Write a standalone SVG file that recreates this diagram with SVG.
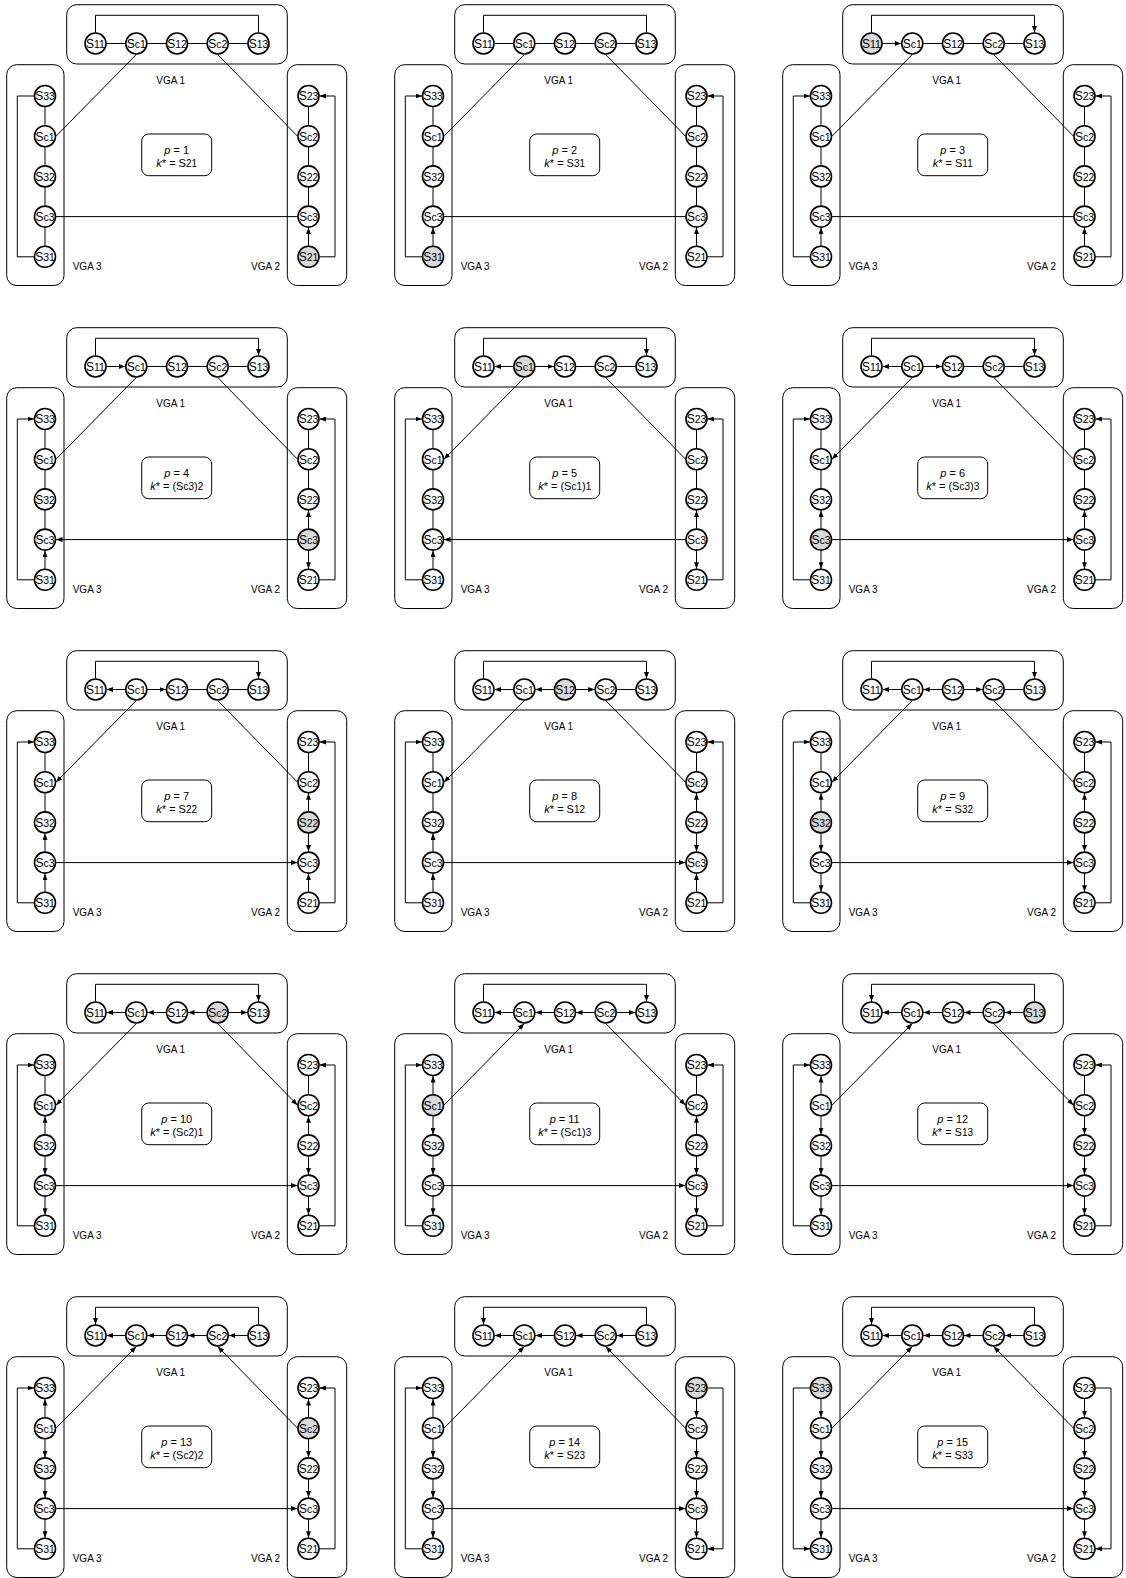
<svg xmlns="http://www.w3.org/2000/svg" width="1126" height="1578" viewBox="0 0 1126 1578">
<defs>
<marker id="arr" viewBox="0 0 6.5 5" refX="6.5" refY="2.5" markerWidth="6.5" markerHeight="5" markerUnits="userSpaceOnUse" orient="auto"><path d="M0,0L6.5,2.5L0,5z" fill="#000"/></marker>
</defs>
<style>
text{font-family:"Liberation Sans",Arial,sans-serif;fill:#000}
.n circle{fill:#fff;stroke:#000;stroke-width:1.6}
.n.h circle{fill:#d9d9d9}
.n text{font-size:12px;text-anchor:middle}
.n .t{font-size:10.5px}
.c rect,rect.c{fill:#fff;stroke:#000;stroke-width:1}
.e path{fill:none;stroke:#000;stroke-width:1}
.e path.a{marker-end:url(#arr)}
.l{font-size:10px}
.m{font-size:11px;text-anchor:middle}
.m .t{font-size:10px}
.i{font-style:italic}
</style>
<rect width="1126" height="1578" fill="#fff"/>

<!-- Panel 1 -->
<g id="panel1" transform="translate(0,0)">
<g class="c"><rect x="66.7" y="4.7" width="220.6" height="59.3" rx="10"/><rect x="6.7" y="64.7" width="57.3" height="220.8" rx="10"/><rect x="287.3" y="64.7" width="59.4" height="220.8" rx="10"/></g>
<text class="l" x="170.7" y="83.5" text-anchor="middle">VGA 1</text><text class="l" x="72.7" y="270">VGA 3</text><text class="l" x="280" y="270" text-anchor="end">VGA 2</text>
<g id="p1-edges" class="e">
<path d="M106.5,43.5H125.3"/><path d="M147.3,43.5H166"/><path d="M188,43.5H206.7"/><path d="M228.7,43.5H247.5"/><path d="M95.5,32.5V15.3H258.5V32.5"/>
<path d="M45,107V125.2"/><path d="M45,147.2V165.4"/><path d="M45,187.4V205.6"/><path d="M45,227.6V245.8"/><path d="M34,256.8H17.3V96H34"/>
<path d="M308.5,107V125.2"/><path d="M308.5,147.2V165.4"/><path d="M308.5,187.4V205.6"/><path class="a" d="M308.5,245.8V227.6"/><path class="a" d="M319.5,256.8H335V96H319.5"/>
<path d="M136.3,54.5L56,136.2"/><path d="M217.7,54.5L297.5,136.2"/><path d="M56,216.6H297.5"/>
</g>
<g id="p1-v1-S11" class="n"><circle cx="95.5" cy="43.5" r="10.5"/><text x="95.5" y="47.8">S<tspan class="t">11</tspan></text></g>
<g id="p1-v1-Sc1" class="n"><circle cx="136.3" cy="43.5" r="10.5"/><text x="136.3" y="47.8">S<tspan class="t">c1</tspan></text></g>
<g id="p1-v1-S12" class="n"><circle cx="177" cy="43.5" r="10.5"/><text x="177" y="47.8">S<tspan class="t">12</tspan></text></g>
<g id="p1-v1-Sc2" class="n"><circle cx="217.7" cy="43.5" r="10.5"/><text x="217.7" y="47.8">S<tspan class="t">c2</tspan></text></g>
<g id="p1-v1-S13" class="n"><circle cx="258.5" cy="43.5" r="10.5"/><text x="258.5" y="47.8">S<tspan class="t">13</tspan></text></g>
<g id="p1-v3-S33" class="n"><circle cx="45" cy="96" r="10.5"/><text x="45" y="100.3">S<tspan class="t">33</tspan></text></g>
<g id="p1-v3-Sc1" class="n"><circle cx="45" cy="136.2" r="10.5"/><text x="45" y="140.5">S<tspan class="t">c1</tspan></text></g>
<g id="p1-v3-S32" class="n"><circle cx="45" cy="176.4" r="10.5"/><text x="45" y="180.7">S<tspan class="t">32</tspan></text></g>
<g id="p1-v3-Sc3" class="n"><circle cx="45" cy="216.6" r="10.5"/><text x="45" y="220.9">S<tspan class="t">c3</tspan></text></g>
<g id="p1-v3-S31" class="n"><circle cx="45" cy="256.8" r="10.5"/><text x="45" y="261.1">S<tspan class="t">31</tspan></text></g>
<g id="p1-v2-S23" class="n"><circle cx="308.5" cy="96" r="10.5"/><text x="308.5" y="100.3">S<tspan class="t">23</tspan></text></g>
<g id="p1-v2-Sc2" class="n"><circle cx="308.5" cy="136.2" r="10.5"/><text x="308.5" y="140.5">S<tspan class="t">c2</tspan></text></g>
<g id="p1-v2-S22" class="n"><circle cx="308.5" cy="176.4" r="10.5"/><text x="308.5" y="180.7">S<tspan class="t">22</tspan></text></g>
<g id="p1-v2-Sc3" class="n"><circle cx="308.5" cy="216.6" r="10.5"/><text x="308.5" y="220.9">S<tspan class="t">c3</tspan></text></g>
<g id="p1-v2-S21" class="n h"><circle cx="308.5" cy="256.8" r="10.5"/><text x="308.5" y="261.1">S<tspan class="t">21</tspan></text></g>
<g id="p1-info"><rect class="c" x="141.7" y="134" width="70" height="41.7" rx="7"/><text class="m" x="176.7" y="153.5"><tspan class="i">p</tspan> = 1</text><text class="m" x="176.7" y="167"><tspan class="i">k</tspan>* = S<tspan class="t">21</tspan></text></g>
</g>

<!-- Panel 2 -->
<g id="panel2" transform="translate(388,0)">
<g class="c"><rect x="66.7" y="4.7" width="220.6" height="59.3" rx="10"/><rect x="6.7" y="64.7" width="57.3" height="220.8" rx="10"/><rect x="287.3" y="64.7" width="59.4" height="220.8" rx="10"/></g>
<text class="l" x="170.7" y="83.5" text-anchor="middle">VGA 1</text><text class="l" x="72.7" y="270">VGA 3</text><text class="l" x="280" y="270" text-anchor="end">VGA 2</text>
<g id="p2-edges" class="e">
<path d="M106.5,43.5H125.3"/><path d="M147.3,43.5H166"/><path d="M188,43.5H206.7"/><path d="M228.7,43.5H247.5"/><path d="M95.5,32.5V15.3H258.5V32.5"/>
<path d="M45,107V125.2"/><path d="M45,147.2V165.4"/><path d="M45,187.4V205.6"/><path class="a" d="M45,245.8V227.6"/><path class="a" d="M34,256.8H17.3V96H34"/>
<path d="M308.5,107V125.2"/><path d="M308.5,147.2V165.4"/><path d="M308.5,187.4V205.6"/><path class="a" d="M308.5,245.8V227.6"/><path class="a" d="M319.5,256.8H335V96H319.5"/>
<path d="M136.3,54.5L56,136.2"/><path d="M217.7,54.5L297.5,136.2"/><path d="M56,216.6H297.5"/>
</g>
<g id="p2-v1-S11" class="n"><circle cx="95.5" cy="43.5" r="10.5"/><text x="95.5" y="47.8">S<tspan class="t">11</tspan></text></g>
<g id="p2-v1-Sc1" class="n"><circle cx="136.3" cy="43.5" r="10.5"/><text x="136.3" y="47.8">S<tspan class="t">c1</tspan></text></g>
<g id="p2-v1-S12" class="n"><circle cx="177" cy="43.5" r="10.5"/><text x="177" y="47.8">S<tspan class="t">12</tspan></text></g>
<g id="p2-v1-Sc2" class="n"><circle cx="217.7" cy="43.5" r="10.5"/><text x="217.7" y="47.8">S<tspan class="t">c2</tspan></text></g>
<g id="p2-v1-S13" class="n"><circle cx="258.5" cy="43.5" r="10.5"/><text x="258.5" y="47.8">S<tspan class="t">13</tspan></text></g>
<g id="p2-v3-S33" class="n"><circle cx="45" cy="96" r="10.5"/><text x="45" y="100.3">S<tspan class="t">33</tspan></text></g>
<g id="p2-v3-Sc1" class="n"><circle cx="45" cy="136.2" r="10.5"/><text x="45" y="140.5">S<tspan class="t">c1</tspan></text></g>
<g id="p2-v3-S32" class="n"><circle cx="45" cy="176.4" r="10.5"/><text x="45" y="180.7">S<tspan class="t">32</tspan></text></g>
<g id="p2-v3-Sc3" class="n"><circle cx="45" cy="216.6" r="10.5"/><text x="45" y="220.9">S<tspan class="t">c3</tspan></text></g>
<g id="p2-v3-S31" class="n h"><circle cx="45" cy="256.8" r="10.5"/><text x="45" y="261.1">S<tspan class="t">31</tspan></text></g>
<g id="p2-v2-S23" class="n"><circle cx="308.5" cy="96" r="10.5"/><text x="308.5" y="100.3">S<tspan class="t">23</tspan></text></g>
<g id="p2-v2-Sc2" class="n"><circle cx="308.5" cy="136.2" r="10.5"/><text x="308.5" y="140.5">S<tspan class="t">c2</tspan></text></g>
<g id="p2-v2-S22" class="n"><circle cx="308.5" cy="176.4" r="10.5"/><text x="308.5" y="180.7">S<tspan class="t">22</tspan></text></g>
<g id="p2-v2-Sc3" class="n"><circle cx="308.5" cy="216.6" r="10.5"/><text x="308.5" y="220.9">S<tspan class="t">c3</tspan></text></g>
<g id="p2-v2-S21" class="n"><circle cx="308.5" cy="256.8" r="10.5"/><text x="308.5" y="261.1">S<tspan class="t">21</tspan></text></g>
<g id="p2-info"><rect class="c" x="141.7" y="134" width="70" height="41.7" rx="7"/><text class="m" x="176.7" y="153.5"><tspan class="i">p</tspan> = 2</text><text class="m" x="176.7" y="167"><tspan class="i">k</tspan>* = S<tspan class="t">31</tspan></text></g>
</g>

<!-- Panel 3 -->
<g id="panel3" transform="translate(776,0)">
<g class="c"><rect x="66.7" y="4.7" width="220.6" height="59.3" rx="10"/><rect x="6.7" y="64.7" width="57.3" height="220.8" rx="10"/><rect x="287.3" y="64.7" width="59.4" height="220.8" rx="10"/></g>
<text class="l" x="170.7" y="83.5" text-anchor="middle">VGA 1</text><text class="l" x="72.7" y="270">VGA 3</text><text class="l" x="280" y="270" text-anchor="end">VGA 2</text>
<g id="p3-edges" class="e">
<path class="a" d="M106.5,43.5H125.3"/><path d="M147.3,43.5H166"/><path d="M188,43.5H206.7"/><path d="M228.7,43.5H247.5"/><path class="a" d="M95.5,32.5V15.3H258.5V32.5"/>
<path d="M45,107V125.2"/><path d="M45,147.2V165.4"/><path d="M45,187.4V205.6"/><path class="a" d="M45,245.8V227.6"/><path class="a" d="M34,256.8H17.3V96H34"/>
<path d="M308.5,107V125.2"/><path d="M308.5,147.2V165.4"/><path d="M308.5,187.4V205.6"/><path class="a" d="M308.5,245.8V227.6"/><path class="a" d="M319.5,256.8H335V96H319.5"/>
<path d="M136.3,54.5L56,136.2"/><path d="M217.7,54.5L297.5,136.2"/><path d="M56,216.6H297.5"/>
</g>
<g id="p3-v1-S11" class="n h"><circle cx="95.5" cy="43.5" r="10.5"/><text x="95.5" y="47.8">S<tspan class="t">11</tspan></text></g>
<g id="p3-v1-Sc1" class="n"><circle cx="136.3" cy="43.5" r="10.5"/><text x="136.3" y="47.8">S<tspan class="t">c1</tspan></text></g>
<g id="p3-v1-S12" class="n"><circle cx="177" cy="43.5" r="10.5"/><text x="177" y="47.8">S<tspan class="t">12</tspan></text></g>
<g id="p3-v1-Sc2" class="n"><circle cx="217.7" cy="43.5" r="10.5"/><text x="217.7" y="47.8">S<tspan class="t">c2</tspan></text></g>
<g id="p3-v1-S13" class="n"><circle cx="258.5" cy="43.5" r="10.5"/><text x="258.5" y="47.8">S<tspan class="t">13</tspan></text></g>
<g id="p3-v3-S33" class="n"><circle cx="45" cy="96" r="10.5"/><text x="45" y="100.3">S<tspan class="t">33</tspan></text></g>
<g id="p3-v3-Sc1" class="n"><circle cx="45" cy="136.2" r="10.5"/><text x="45" y="140.5">S<tspan class="t">c1</tspan></text></g>
<g id="p3-v3-S32" class="n"><circle cx="45" cy="176.4" r="10.5"/><text x="45" y="180.7">S<tspan class="t">32</tspan></text></g>
<g id="p3-v3-Sc3" class="n"><circle cx="45" cy="216.6" r="10.5"/><text x="45" y="220.9">S<tspan class="t">c3</tspan></text></g>
<g id="p3-v3-S31" class="n"><circle cx="45" cy="256.8" r="10.5"/><text x="45" y="261.1">S<tspan class="t">31</tspan></text></g>
<g id="p3-v2-S23" class="n"><circle cx="308.5" cy="96" r="10.5"/><text x="308.5" y="100.3">S<tspan class="t">23</tspan></text></g>
<g id="p3-v2-Sc2" class="n"><circle cx="308.5" cy="136.2" r="10.5"/><text x="308.5" y="140.5">S<tspan class="t">c2</tspan></text></g>
<g id="p3-v2-S22" class="n"><circle cx="308.5" cy="176.4" r="10.5"/><text x="308.5" y="180.7">S<tspan class="t">22</tspan></text></g>
<g id="p3-v2-Sc3" class="n"><circle cx="308.5" cy="216.6" r="10.5"/><text x="308.5" y="220.9">S<tspan class="t">c3</tspan></text></g>
<g id="p3-v2-S21" class="n"><circle cx="308.5" cy="256.8" r="10.5"/><text x="308.5" y="261.1">S<tspan class="t">21</tspan></text></g>
<g id="p3-info"><rect class="c" x="141.7" y="134" width="70" height="41.7" rx="7"/><text class="m" x="176.7" y="153.5"><tspan class="i">p</tspan> = 3</text><text class="m" x="176.7" y="167"><tspan class="i">k</tspan>* = S<tspan class="t">11</tspan></text></g>
</g>

<!-- Panel 4 -->
<g id="panel4" transform="translate(0,323)">
<g class="c"><rect x="66.7" y="4.7" width="220.6" height="59.3" rx="10"/><rect x="6.7" y="64.7" width="57.3" height="220.8" rx="10"/><rect x="287.3" y="64.7" width="59.4" height="220.8" rx="10"/></g>
<text class="l" x="170.7" y="83.5" text-anchor="middle">VGA 1</text><text class="l" x="72.7" y="270">VGA 3</text><text class="l" x="280" y="270" text-anchor="end">VGA 2</text>
<g id="p4-edges" class="e">
<path class="a" d="M106.5,43.5H125.3"/><path d="M147.3,43.5H166"/><path d="M188,43.5H206.7"/><path d="M228.7,43.5H247.5"/><path class="a" d="M95.5,32.5V15.3H258.5V32.5"/>
<path d="M45,107V125.2"/><path d="M45,147.2V165.4"/><path d="M45,187.4V205.6"/><path class="a" d="M45,245.8V227.6"/><path class="a" d="M34,256.8H17.3V96H34"/>
<path d="M308.5,107V125.2"/><path d="M308.5,147.2V165.4"/><path class="a" d="M308.5,205.6V187.4"/><path class="a" d="M308.5,227.6V245.8"/><path class="a" d="M319.5,256.8H335V96H319.5"/>
<path d="M136.3,54.5L56,136.2"/><path d="M217.7,54.5L297.5,136.2"/><path class="a" d="M297.5,216.6H56"/>
</g>
<g id="p4-v1-S11" class="n"><circle cx="95.5" cy="43.5" r="10.5"/><text x="95.5" y="47.8">S<tspan class="t">11</tspan></text></g>
<g id="p4-v1-Sc1" class="n"><circle cx="136.3" cy="43.5" r="10.5"/><text x="136.3" y="47.8">S<tspan class="t">c1</tspan></text></g>
<g id="p4-v1-S12" class="n"><circle cx="177" cy="43.5" r="10.5"/><text x="177" y="47.8">S<tspan class="t">12</tspan></text></g>
<g id="p4-v1-Sc2" class="n"><circle cx="217.7" cy="43.5" r="10.5"/><text x="217.7" y="47.8">S<tspan class="t">c2</tspan></text></g>
<g id="p4-v1-S13" class="n"><circle cx="258.5" cy="43.5" r="10.5"/><text x="258.5" y="47.8">S<tspan class="t">13</tspan></text></g>
<g id="p4-v3-S33" class="n"><circle cx="45" cy="96" r="10.5"/><text x="45" y="100.3">S<tspan class="t">33</tspan></text></g>
<g id="p4-v3-Sc1" class="n"><circle cx="45" cy="136.2" r="10.5"/><text x="45" y="140.5">S<tspan class="t">c1</tspan></text></g>
<g id="p4-v3-S32" class="n"><circle cx="45" cy="176.4" r="10.5"/><text x="45" y="180.7">S<tspan class="t">32</tspan></text></g>
<g id="p4-v3-Sc3" class="n"><circle cx="45" cy="216.6" r="10.5"/><text x="45" y="220.9">S<tspan class="t">c3</tspan></text></g>
<g id="p4-v3-S31" class="n"><circle cx="45" cy="256.8" r="10.5"/><text x="45" y="261.1">S<tspan class="t">31</tspan></text></g>
<g id="p4-v2-S23" class="n"><circle cx="308.5" cy="96" r="10.5"/><text x="308.5" y="100.3">S<tspan class="t">23</tspan></text></g>
<g id="p4-v2-Sc2" class="n"><circle cx="308.5" cy="136.2" r="10.5"/><text x="308.5" y="140.5">S<tspan class="t">c2</tspan></text></g>
<g id="p4-v2-S22" class="n"><circle cx="308.5" cy="176.4" r="10.5"/><text x="308.5" y="180.7">S<tspan class="t">22</tspan></text></g>
<g id="p4-v2-Sc3" class="n h"><circle cx="308.5" cy="216.6" r="10.5"/><text x="308.5" y="220.9">S<tspan class="t">c3</tspan></text></g>
<g id="p4-v2-S21" class="n"><circle cx="308.5" cy="256.8" r="10.5"/><text x="308.5" y="261.1">S<tspan class="t">21</tspan></text></g>
<g id="p4-info"><rect class="c" x="141.7" y="134" width="70" height="41.7" rx="7"/><text class="m" x="176.7" y="153.5"><tspan class="i">p</tspan> = 4</text><text class="m" x="176.7" y="167"><tspan class="i">k</tspan>* = (S<tspan class="t">c3</tspan>)<tspan class="t">2</tspan></text></g>
</g>

<!-- Panel 5 -->
<g id="panel5" transform="translate(388,323)">
<g class="c"><rect x="66.7" y="4.7" width="220.6" height="59.3" rx="10"/><rect x="6.7" y="64.7" width="57.3" height="220.8" rx="10"/><rect x="287.3" y="64.7" width="59.4" height="220.8" rx="10"/></g>
<text class="l" x="170.7" y="83.5" text-anchor="middle">VGA 1</text><text class="l" x="72.7" y="270">VGA 3</text><text class="l" x="280" y="270" text-anchor="end">VGA 2</text>
<g id="p5-edges" class="e">
<path class="a" d="M125.3,43.5H106.5"/><path class="a" d="M147.3,43.5H166"/><path d="M188,43.5H206.7"/><path d="M228.7,43.5H247.5"/><path class="a" d="M95.5,32.5V15.3H258.5V32.5"/>
<path d="M45,107V125.2"/><path d="M45,147.2V165.4"/><path d="M45,187.4V205.6"/><path class="a" d="M45,245.8V227.6"/><path class="a" d="M34,256.8H17.3V96H34"/>
<path d="M308.5,107V125.2"/><path d="M308.5,147.2V165.4"/><path class="a" d="M308.5,205.6V187.4"/><path class="a" d="M308.5,227.6V245.8"/><path class="a" d="M319.5,256.8H335V96H319.5"/>
<path class="a" d="M136.3,54.5L56,136.2"/><path d="M217.7,54.5L297.5,136.2"/><path class="a" d="M297.5,216.6H56"/>
</g>
<g id="p5-v1-S11" class="n"><circle cx="95.5" cy="43.5" r="10.5"/><text x="95.5" y="47.8">S<tspan class="t">11</tspan></text></g>
<g id="p5-v1-Sc1" class="n h"><circle cx="136.3" cy="43.5" r="10.5"/><text x="136.3" y="47.8">S<tspan class="t">c1</tspan></text></g>
<g id="p5-v1-S12" class="n"><circle cx="177" cy="43.5" r="10.5"/><text x="177" y="47.8">S<tspan class="t">12</tspan></text></g>
<g id="p5-v1-Sc2" class="n"><circle cx="217.7" cy="43.5" r="10.5"/><text x="217.7" y="47.8">S<tspan class="t">c2</tspan></text></g>
<g id="p5-v1-S13" class="n"><circle cx="258.5" cy="43.5" r="10.5"/><text x="258.5" y="47.8">S<tspan class="t">13</tspan></text></g>
<g id="p5-v3-S33" class="n"><circle cx="45" cy="96" r="10.5"/><text x="45" y="100.3">S<tspan class="t">33</tspan></text></g>
<g id="p5-v3-Sc1" class="n"><circle cx="45" cy="136.2" r="10.5"/><text x="45" y="140.5">S<tspan class="t">c1</tspan></text></g>
<g id="p5-v3-S32" class="n"><circle cx="45" cy="176.4" r="10.5"/><text x="45" y="180.7">S<tspan class="t">32</tspan></text></g>
<g id="p5-v3-Sc3" class="n"><circle cx="45" cy="216.6" r="10.5"/><text x="45" y="220.9">S<tspan class="t">c3</tspan></text></g>
<g id="p5-v3-S31" class="n"><circle cx="45" cy="256.8" r="10.5"/><text x="45" y="261.1">S<tspan class="t">31</tspan></text></g>
<g id="p5-v2-S23" class="n"><circle cx="308.5" cy="96" r="10.5"/><text x="308.5" y="100.3">S<tspan class="t">23</tspan></text></g>
<g id="p5-v2-Sc2" class="n"><circle cx="308.5" cy="136.2" r="10.5"/><text x="308.5" y="140.5">S<tspan class="t">c2</tspan></text></g>
<g id="p5-v2-S22" class="n"><circle cx="308.5" cy="176.4" r="10.5"/><text x="308.5" y="180.7">S<tspan class="t">22</tspan></text></g>
<g id="p5-v2-Sc3" class="n"><circle cx="308.5" cy="216.6" r="10.5"/><text x="308.5" y="220.9">S<tspan class="t">c3</tspan></text></g>
<g id="p5-v2-S21" class="n"><circle cx="308.5" cy="256.8" r="10.5"/><text x="308.5" y="261.1">S<tspan class="t">21</tspan></text></g>
<g id="p5-info"><rect class="c" x="141.7" y="134" width="70" height="41.7" rx="7"/><text class="m" x="176.7" y="153.5"><tspan class="i">p</tspan> = 5</text><text class="m" x="176.7" y="167"><tspan class="i">k</tspan>* = (S<tspan class="t">c1</tspan>)<tspan class="t">1</tspan></text></g>
</g>

<!-- Panel 6 -->
<g id="panel6" transform="translate(776,323)">
<g class="c"><rect x="66.7" y="4.7" width="220.6" height="59.3" rx="10"/><rect x="6.7" y="64.7" width="57.3" height="220.8" rx="10"/><rect x="287.3" y="64.7" width="59.4" height="220.8" rx="10"/></g>
<text class="l" x="170.7" y="83.5" text-anchor="middle">VGA 1</text><text class="l" x="72.7" y="270">VGA 3</text><text class="l" x="280" y="270" text-anchor="end">VGA 2</text>
<g id="p6-edges" class="e">
<path class="a" d="M125.3,43.5H106.5"/><path class="a" d="M147.3,43.5H166"/><path d="M188,43.5H206.7"/><path d="M228.7,43.5H247.5"/><path class="a" d="M95.5,32.5V15.3H258.5V32.5"/>
<path d="M45,107V125.2"/><path d="M45,147.2V165.4"/><path class="a" d="M45,205.6V187.4"/><path class="a" d="M45,227.6V245.8"/><path class="a" d="M34,256.8H17.3V96H34"/>
<path d="M308.5,107V125.2"/><path d="M308.5,147.2V165.4"/><path class="a" d="M308.5,205.6V187.4"/><path class="a" d="M308.5,227.6V245.8"/><path class="a" d="M319.5,256.8H335V96H319.5"/>
<path class="a" d="M136.3,54.5L56,136.2"/><path d="M217.7,54.5L297.5,136.2"/><path class="a" d="M56,216.6H297.5"/>
</g>
<g id="p6-v1-S11" class="n"><circle cx="95.5" cy="43.5" r="10.5"/><text x="95.5" y="47.8">S<tspan class="t">11</tspan></text></g>
<g id="p6-v1-Sc1" class="n"><circle cx="136.3" cy="43.5" r="10.5"/><text x="136.3" y="47.8">S<tspan class="t">c1</tspan></text></g>
<g id="p6-v1-S12" class="n"><circle cx="177" cy="43.5" r="10.5"/><text x="177" y="47.8">S<tspan class="t">12</tspan></text></g>
<g id="p6-v1-Sc2" class="n"><circle cx="217.7" cy="43.5" r="10.5"/><text x="217.7" y="47.8">S<tspan class="t">c2</tspan></text></g>
<g id="p6-v1-S13" class="n"><circle cx="258.5" cy="43.5" r="10.5"/><text x="258.5" y="47.8">S<tspan class="t">13</tspan></text></g>
<g id="p6-v3-S33" class="n"><circle cx="45" cy="96" r="10.5"/><text x="45" y="100.3">S<tspan class="t">33</tspan></text></g>
<g id="p6-v3-Sc1" class="n"><circle cx="45" cy="136.2" r="10.5"/><text x="45" y="140.5">S<tspan class="t">c1</tspan></text></g>
<g id="p6-v3-S32" class="n"><circle cx="45" cy="176.4" r="10.5"/><text x="45" y="180.7">S<tspan class="t">32</tspan></text></g>
<g id="p6-v3-Sc3" class="n h"><circle cx="45" cy="216.6" r="10.5"/><text x="45" y="220.9">S<tspan class="t">c3</tspan></text></g>
<g id="p6-v3-S31" class="n"><circle cx="45" cy="256.8" r="10.5"/><text x="45" y="261.1">S<tspan class="t">31</tspan></text></g>
<g id="p6-v2-S23" class="n"><circle cx="308.5" cy="96" r="10.5"/><text x="308.5" y="100.3">S<tspan class="t">23</tspan></text></g>
<g id="p6-v2-Sc2" class="n"><circle cx="308.5" cy="136.2" r="10.5"/><text x="308.5" y="140.5">S<tspan class="t">c2</tspan></text></g>
<g id="p6-v2-S22" class="n"><circle cx="308.5" cy="176.4" r="10.5"/><text x="308.5" y="180.7">S<tspan class="t">22</tspan></text></g>
<g id="p6-v2-Sc3" class="n"><circle cx="308.5" cy="216.6" r="10.5"/><text x="308.5" y="220.9">S<tspan class="t">c3</tspan></text></g>
<g id="p6-v2-S21" class="n"><circle cx="308.5" cy="256.8" r="10.5"/><text x="308.5" y="261.1">S<tspan class="t">21</tspan></text></g>
<g id="p6-info"><rect class="c" x="141.7" y="134" width="70" height="41.7" rx="7"/><text class="m" x="176.7" y="153.5"><tspan class="i">p</tspan> = 6</text><text class="m" x="176.7" y="167"><tspan class="i">k</tspan>* = (S<tspan class="t">c3</tspan>)<tspan class="t">3</tspan></text></g>
</g>

<!-- Panel 7 -->
<g id="panel7" transform="translate(0,646)">
<g class="c"><rect x="66.7" y="4.7" width="220.6" height="59.3" rx="10"/><rect x="6.7" y="64.7" width="57.3" height="220.8" rx="10"/><rect x="287.3" y="64.7" width="59.4" height="220.8" rx="10"/></g>
<text class="l" x="170.7" y="83.5" text-anchor="middle">VGA 1</text><text class="l" x="72.7" y="270">VGA 3</text><text class="l" x="280" y="270" text-anchor="end">VGA 2</text>
<g id="p7-edges" class="e">
<path class="a" d="M125.3,43.5H106.5"/><path class="a" d="M147.3,43.5H166"/><path d="M188,43.5H206.7"/><path d="M228.7,43.5H247.5"/><path class="a" d="M95.5,32.5V15.3H258.5V32.5"/>
<path d="M45,107V125.2"/><path d="M45,147.2V165.4"/><path class="a" d="M45,205.6V187.4"/><path class="a" d="M45,245.8V227.6"/><path class="a" d="M34,256.8H17.3V96H34"/>
<path d="M308.5,107V125.2"/><path class="a" d="M308.5,165.4V147.2"/><path class="a" d="M308.5,187.4V205.6"/><path class="a" d="M308.5,245.8V227.6"/><path class="a" d="M319.5,256.8H335V96H319.5"/>
<path class="a" d="M136.3,54.5L56,136.2"/><path d="M217.7,54.5L297.5,136.2"/><path class="a" d="M56,216.6H297.5"/>
</g>
<g id="p7-v1-S11" class="n"><circle cx="95.5" cy="43.5" r="10.5"/><text x="95.5" y="47.8">S<tspan class="t">11</tspan></text></g>
<g id="p7-v1-Sc1" class="n"><circle cx="136.3" cy="43.5" r="10.5"/><text x="136.3" y="47.8">S<tspan class="t">c1</tspan></text></g>
<g id="p7-v1-S12" class="n"><circle cx="177" cy="43.5" r="10.5"/><text x="177" y="47.8">S<tspan class="t">12</tspan></text></g>
<g id="p7-v1-Sc2" class="n"><circle cx="217.7" cy="43.5" r="10.5"/><text x="217.7" y="47.8">S<tspan class="t">c2</tspan></text></g>
<g id="p7-v1-S13" class="n"><circle cx="258.5" cy="43.5" r="10.5"/><text x="258.5" y="47.8">S<tspan class="t">13</tspan></text></g>
<g id="p7-v3-S33" class="n"><circle cx="45" cy="96" r="10.5"/><text x="45" y="100.3">S<tspan class="t">33</tspan></text></g>
<g id="p7-v3-Sc1" class="n"><circle cx="45" cy="136.2" r="10.5"/><text x="45" y="140.5">S<tspan class="t">c1</tspan></text></g>
<g id="p7-v3-S32" class="n"><circle cx="45" cy="176.4" r="10.5"/><text x="45" y="180.7">S<tspan class="t">32</tspan></text></g>
<g id="p7-v3-Sc3" class="n"><circle cx="45" cy="216.6" r="10.5"/><text x="45" y="220.9">S<tspan class="t">c3</tspan></text></g>
<g id="p7-v3-S31" class="n"><circle cx="45" cy="256.8" r="10.5"/><text x="45" y="261.1">S<tspan class="t">31</tspan></text></g>
<g id="p7-v2-S23" class="n"><circle cx="308.5" cy="96" r="10.5"/><text x="308.5" y="100.3">S<tspan class="t">23</tspan></text></g>
<g id="p7-v2-Sc2" class="n"><circle cx="308.5" cy="136.2" r="10.5"/><text x="308.5" y="140.5">S<tspan class="t">c2</tspan></text></g>
<g id="p7-v2-S22" class="n h"><circle cx="308.5" cy="176.4" r="10.5"/><text x="308.5" y="180.7">S<tspan class="t">22</tspan></text></g>
<g id="p7-v2-Sc3" class="n"><circle cx="308.5" cy="216.6" r="10.5"/><text x="308.5" y="220.9">S<tspan class="t">c3</tspan></text></g>
<g id="p7-v2-S21" class="n"><circle cx="308.5" cy="256.8" r="10.5"/><text x="308.5" y="261.1">S<tspan class="t">21</tspan></text></g>
<g id="p7-info"><rect class="c" x="141.7" y="134" width="70" height="41.7" rx="7"/><text class="m" x="176.7" y="153.5"><tspan class="i">p</tspan> = 7</text><text class="m" x="176.7" y="167"><tspan class="i">k</tspan>* = S<tspan class="t">22</tspan></text></g>
</g>

<!-- Panel 8 -->
<g id="panel8" transform="translate(388,646)">
<g class="c"><rect x="66.7" y="4.7" width="220.6" height="59.3" rx="10"/><rect x="6.7" y="64.7" width="57.3" height="220.8" rx="10"/><rect x="287.3" y="64.7" width="59.4" height="220.8" rx="10"/></g>
<text class="l" x="170.7" y="83.5" text-anchor="middle">VGA 1</text><text class="l" x="72.7" y="270">VGA 3</text><text class="l" x="280" y="270" text-anchor="end">VGA 2</text>
<g id="p8-edges" class="e">
<path class="a" d="M125.3,43.5H106.5"/><path class="a" d="M166,43.5H147.3"/><path class="a" d="M188,43.5H206.7"/><path d="M228.7,43.5H247.5"/><path class="a" d="M95.5,32.5V15.3H258.5V32.5"/>
<path d="M45,107V125.2"/><path d="M45,147.2V165.4"/><path class="a" d="M45,205.6V187.4"/><path class="a" d="M45,245.8V227.6"/><path class="a" d="M34,256.8H17.3V96H34"/>
<path d="M308.5,107V125.2"/><path class="a" d="M308.5,165.4V147.2"/><path class="a" d="M308.5,187.4V205.6"/><path class="a" d="M308.5,245.8V227.6"/><path class="a" d="M319.5,256.8H335V96H319.5"/>
<path class="a" d="M136.3,54.5L56,136.2"/><path d="M217.7,54.5L297.5,136.2"/><path class="a" d="M56,216.6H297.5"/>
</g>
<g id="p8-v1-S11" class="n"><circle cx="95.5" cy="43.5" r="10.5"/><text x="95.5" y="47.8">S<tspan class="t">11</tspan></text></g>
<g id="p8-v1-Sc1" class="n"><circle cx="136.3" cy="43.5" r="10.5"/><text x="136.3" y="47.8">S<tspan class="t">c1</tspan></text></g>
<g id="p8-v1-S12" class="n h"><circle cx="177" cy="43.5" r="10.5"/><text x="177" y="47.8">S<tspan class="t">12</tspan></text></g>
<g id="p8-v1-Sc2" class="n"><circle cx="217.7" cy="43.5" r="10.5"/><text x="217.7" y="47.8">S<tspan class="t">c2</tspan></text></g>
<g id="p8-v1-S13" class="n"><circle cx="258.5" cy="43.5" r="10.5"/><text x="258.5" y="47.8">S<tspan class="t">13</tspan></text></g>
<g id="p8-v3-S33" class="n"><circle cx="45" cy="96" r="10.5"/><text x="45" y="100.3">S<tspan class="t">33</tspan></text></g>
<g id="p8-v3-Sc1" class="n"><circle cx="45" cy="136.2" r="10.5"/><text x="45" y="140.5">S<tspan class="t">c1</tspan></text></g>
<g id="p8-v3-S32" class="n"><circle cx="45" cy="176.4" r="10.5"/><text x="45" y="180.7">S<tspan class="t">32</tspan></text></g>
<g id="p8-v3-Sc3" class="n"><circle cx="45" cy="216.6" r="10.5"/><text x="45" y="220.9">S<tspan class="t">c3</tspan></text></g>
<g id="p8-v3-S31" class="n"><circle cx="45" cy="256.8" r="10.5"/><text x="45" y="261.1">S<tspan class="t">31</tspan></text></g>
<g id="p8-v2-S23" class="n"><circle cx="308.5" cy="96" r="10.5"/><text x="308.5" y="100.3">S<tspan class="t">23</tspan></text></g>
<g id="p8-v2-Sc2" class="n"><circle cx="308.5" cy="136.2" r="10.5"/><text x="308.5" y="140.5">S<tspan class="t">c2</tspan></text></g>
<g id="p8-v2-S22" class="n"><circle cx="308.5" cy="176.4" r="10.5"/><text x="308.5" y="180.7">S<tspan class="t">22</tspan></text></g>
<g id="p8-v2-Sc3" class="n"><circle cx="308.5" cy="216.6" r="10.5"/><text x="308.5" y="220.9">S<tspan class="t">c3</tspan></text></g>
<g id="p8-v2-S21" class="n"><circle cx="308.5" cy="256.8" r="10.5"/><text x="308.5" y="261.1">S<tspan class="t">21</tspan></text></g>
<g id="p8-info"><rect class="c" x="141.7" y="134" width="70" height="41.7" rx="7"/><text class="m" x="176.7" y="153.5"><tspan class="i">p</tspan> = 8</text><text class="m" x="176.7" y="167"><tspan class="i">k</tspan>* = S<tspan class="t">12</tspan></text></g>
</g>

<!-- Panel 9 -->
<g id="panel9" transform="translate(776,646)">
<g class="c"><rect x="66.7" y="4.7" width="220.6" height="59.3" rx="10"/><rect x="6.7" y="64.7" width="57.3" height="220.8" rx="10"/><rect x="287.3" y="64.7" width="59.4" height="220.8" rx="10"/></g>
<text class="l" x="170.7" y="83.5" text-anchor="middle">VGA 1</text><text class="l" x="72.7" y="270">VGA 3</text><text class="l" x="280" y="270" text-anchor="end">VGA 2</text>
<g id="p9-edges" class="e">
<path class="a" d="M125.3,43.5H106.5"/><path class="a" d="M166,43.5H147.3"/><path class="a" d="M188,43.5H206.7"/><path d="M228.7,43.5H247.5"/><path class="a" d="M95.5,32.5V15.3H258.5V32.5"/>
<path d="M45,107V125.2"/><path class="a" d="M45,165.4V147.2"/><path class="a" d="M45,187.4V205.6"/><path class="a" d="M45,227.6V245.8"/><path class="a" d="M34,256.8H17.3V96H34"/>
<path d="M308.5,107V125.2"/><path class="a" d="M308.5,165.4V147.2"/><path class="a" d="M308.5,187.4V205.6"/><path class="a" d="M308.5,227.6V245.8"/><path class="a" d="M319.5,256.8H335V96H319.5"/>
<path class="a" d="M136.3,54.5L56,136.2"/><path d="M217.7,54.5L297.5,136.2"/><path class="a" d="M56,216.6H297.5"/>
</g>
<g id="p9-v1-S11" class="n"><circle cx="95.5" cy="43.5" r="10.5"/><text x="95.5" y="47.8">S<tspan class="t">11</tspan></text></g>
<g id="p9-v1-Sc1" class="n"><circle cx="136.3" cy="43.5" r="10.5"/><text x="136.3" y="47.8">S<tspan class="t">c1</tspan></text></g>
<g id="p9-v1-S12" class="n"><circle cx="177" cy="43.5" r="10.5"/><text x="177" y="47.8">S<tspan class="t">12</tspan></text></g>
<g id="p9-v1-Sc2" class="n"><circle cx="217.7" cy="43.5" r="10.5"/><text x="217.7" y="47.8">S<tspan class="t">c2</tspan></text></g>
<g id="p9-v1-S13" class="n"><circle cx="258.5" cy="43.5" r="10.5"/><text x="258.5" y="47.8">S<tspan class="t">13</tspan></text></g>
<g id="p9-v3-S33" class="n"><circle cx="45" cy="96" r="10.5"/><text x="45" y="100.3">S<tspan class="t">33</tspan></text></g>
<g id="p9-v3-Sc1" class="n"><circle cx="45" cy="136.2" r="10.5"/><text x="45" y="140.5">S<tspan class="t">c1</tspan></text></g>
<g id="p9-v3-S32" class="n h"><circle cx="45" cy="176.4" r="10.5"/><text x="45" y="180.7">S<tspan class="t">32</tspan></text></g>
<g id="p9-v3-Sc3" class="n"><circle cx="45" cy="216.6" r="10.5"/><text x="45" y="220.9">S<tspan class="t">c3</tspan></text></g>
<g id="p9-v3-S31" class="n"><circle cx="45" cy="256.8" r="10.5"/><text x="45" y="261.1">S<tspan class="t">31</tspan></text></g>
<g id="p9-v2-S23" class="n"><circle cx="308.5" cy="96" r="10.5"/><text x="308.5" y="100.3">S<tspan class="t">23</tspan></text></g>
<g id="p9-v2-Sc2" class="n"><circle cx="308.5" cy="136.2" r="10.5"/><text x="308.5" y="140.5">S<tspan class="t">c2</tspan></text></g>
<g id="p9-v2-S22" class="n"><circle cx="308.5" cy="176.4" r="10.5"/><text x="308.5" y="180.7">S<tspan class="t">22</tspan></text></g>
<g id="p9-v2-Sc3" class="n"><circle cx="308.5" cy="216.6" r="10.5"/><text x="308.5" y="220.9">S<tspan class="t">c3</tspan></text></g>
<g id="p9-v2-S21" class="n"><circle cx="308.5" cy="256.8" r="10.5"/><text x="308.5" y="261.1">S<tspan class="t">21</tspan></text></g>
<g id="p9-info"><rect class="c" x="141.7" y="134" width="70" height="41.7" rx="7"/><text class="m" x="176.7" y="153.5"><tspan class="i">p</tspan> = 9</text><text class="m" x="176.7" y="167"><tspan class="i">k</tspan>* = S<tspan class="t">32</tspan></text></g>
</g>

<!-- Panel 10 -->
<g id="panel10" transform="translate(0,969)">
<g class="c"><rect x="66.7" y="4.7" width="220.6" height="59.3" rx="10"/><rect x="6.7" y="64.7" width="57.3" height="220.8" rx="10"/><rect x="287.3" y="64.7" width="59.4" height="220.8" rx="10"/></g>
<text class="l" x="170.7" y="83.5" text-anchor="middle">VGA 1</text><text class="l" x="72.7" y="270">VGA 3</text><text class="l" x="280" y="270" text-anchor="end">VGA 2</text>
<g id="p10-edges" class="e">
<path class="a" d="M125.3,43.5H106.5"/><path class="a" d="M166,43.5H147.3"/><path class="a" d="M206.7,43.5H188"/><path class="a" d="M228.7,43.5H247.5"/><path class="a" d="M95.5,32.5V15.3H258.5V32.5"/>
<path d="M45,107V125.2"/><path class="a" d="M45,165.4V147.2"/><path class="a" d="M45,187.4V205.6"/><path class="a" d="M45,227.6V245.8"/><path class="a" d="M34,256.8H17.3V96H34"/>
<path d="M308.5,107V125.2"/><path class="a" d="M308.5,165.4V147.2"/><path class="a" d="M308.5,187.4V205.6"/><path class="a" d="M308.5,227.6V245.8"/><path class="a" d="M319.5,256.8H335V96H319.5"/>
<path class="a" d="M136.3,54.5L56,136.2"/><path class="a" d="M217.7,54.5L297.5,136.2"/><path class="a" d="M56,216.6H297.5"/>
</g>
<g id="p10-v1-S11" class="n"><circle cx="95.5" cy="43.5" r="10.5"/><text x="95.5" y="47.8">S<tspan class="t">11</tspan></text></g>
<g id="p10-v1-Sc1" class="n"><circle cx="136.3" cy="43.5" r="10.5"/><text x="136.3" y="47.8">S<tspan class="t">c1</tspan></text></g>
<g id="p10-v1-S12" class="n"><circle cx="177" cy="43.5" r="10.5"/><text x="177" y="47.8">S<tspan class="t">12</tspan></text></g>
<g id="p10-v1-Sc2" class="n h"><circle cx="217.7" cy="43.5" r="10.5"/><text x="217.7" y="47.8">S<tspan class="t">c2</tspan></text></g>
<g id="p10-v1-S13" class="n"><circle cx="258.5" cy="43.5" r="10.5"/><text x="258.5" y="47.8">S<tspan class="t">13</tspan></text></g>
<g id="p10-v3-S33" class="n"><circle cx="45" cy="96" r="10.5"/><text x="45" y="100.3">S<tspan class="t">33</tspan></text></g>
<g id="p10-v3-Sc1" class="n"><circle cx="45" cy="136.2" r="10.5"/><text x="45" y="140.5">S<tspan class="t">c1</tspan></text></g>
<g id="p10-v3-S32" class="n"><circle cx="45" cy="176.4" r="10.5"/><text x="45" y="180.7">S<tspan class="t">32</tspan></text></g>
<g id="p10-v3-Sc3" class="n"><circle cx="45" cy="216.6" r="10.5"/><text x="45" y="220.9">S<tspan class="t">c3</tspan></text></g>
<g id="p10-v3-S31" class="n"><circle cx="45" cy="256.8" r="10.5"/><text x="45" y="261.1">S<tspan class="t">31</tspan></text></g>
<g id="p10-v2-S23" class="n"><circle cx="308.5" cy="96" r="10.5"/><text x="308.5" y="100.3">S<tspan class="t">23</tspan></text></g>
<g id="p10-v2-Sc2" class="n"><circle cx="308.5" cy="136.2" r="10.5"/><text x="308.5" y="140.5">S<tspan class="t">c2</tspan></text></g>
<g id="p10-v2-S22" class="n"><circle cx="308.5" cy="176.4" r="10.5"/><text x="308.5" y="180.7">S<tspan class="t">22</tspan></text></g>
<g id="p10-v2-Sc3" class="n"><circle cx="308.5" cy="216.6" r="10.5"/><text x="308.5" y="220.9">S<tspan class="t">c3</tspan></text></g>
<g id="p10-v2-S21" class="n"><circle cx="308.5" cy="256.8" r="10.5"/><text x="308.5" y="261.1">S<tspan class="t">21</tspan></text></g>
<g id="p10-info"><rect class="c" x="141.7" y="134" width="70" height="41.7" rx="7"/><text class="m" x="176.7" y="153.5"><tspan class="i">p</tspan> = 10</text><text class="m" x="176.7" y="167"><tspan class="i">k</tspan>* = (S<tspan class="t">c2</tspan>)<tspan class="t">1</tspan></text></g>
</g>

<!-- Panel 11 -->
<g id="panel11" transform="translate(388,969)">
<g class="c"><rect x="66.7" y="4.7" width="220.6" height="59.3" rx="10"/><rect x="6.7" y="64.7" width="57.3" height="220.8" rx="10"/><rect x="287.3" y="64.7" width="59.4" height="220.8" rx="10"/></g>
<text class="l" x="170.7" y="83.5" text-anchor="middle">VGA 1</text><text class="l" x="72.7" y="270">VGA 3</text><text class="l" x="280" y="270" text-anchor="end">VGA 2</text>
<g id="p11-edges" class="e">
<path class="a" d="M125.3,43.5H106.5"/><path class="a" d="M166,43.5H147.3"/><path class="a" d="M206.7,43.5H188"/><path class="a" d="M228.7,43.5H247.5"/><path class="a" d="M95.5,32.5V15.3H258.5V32.5"/>
<path class="a" d="M45,125.2V107"/><path class="a" d="M45,147.2V165.4"/><path class="a" d="M45,187.4V205.6"/><path class="a" d="M45,227.6V245.8"/><path class="a" d="M34,256.8H17.3V96H34"/>
<path d="M308.5,107V125.2"/><path class="a" d="M308.5,165.4V147.2"/><path class="a" d="M308.5,187.4V205.6"/><path class="a" d="M308.5,227.6V245.8"/><path class="a" d="M319.5,256.8H335V96H319.5"/>
<path class="a" d="M56,136.2L136.3,54.5"/><path class="a" d="M217.7,54.5L297.5,136.2"/><path class="a" d="M56,216.6H297.5"/>
</g>
<g id="p11-v1-S11" class="n"><circle cx="95.5" cy="43.5" r="10.5"/><text x="95.5" y="47.8">S<tspan class="t">11</tspan></text></g>
<g id="p11-v1-Sc1" class="n"><circle cx="136.3" cy="43.5" r="10.5"/><text x="136.3" y="47.8">S<tspan class="t">c1</tspan></text></g>
<g id="p11-v1-S12" class="n"><circle cx="177" cy="43.5" r="10.5"/><text x="177" y="47.8">S<tspan class="t">12</tspan></text></g>
<g id="p11-v1-Sc2" class="n"><circle cx="217.7" cy="43.5" r="10.5"/><text x="217.7" y="47.8">S<tspan class="t">c2</tspan></text></g>
<g id="p11-v1-S13" class="n"><circle cx="258.5" cy="43.5" r="10.5"/><text x="258.5" y="47.8">S<tspan class="t">13</tspan></text></g>
<g id="p11-v3-S33" class="n"><circle cx="45" cy="96" r="10.5"/><text x="45" y="100.3">S<tspan class="t">33</tspan></text></g>
<g id="p11-v3-Sc1" class="n h"><circle cx="45" cy="136.2" r="10.5"/><text x="45" y="140.5">S<tspan class="t">c1</tspan></text></g>
<g id="p11-v3-S32" class="n"><circle cx="45" cy="176.4" r="10.5"/><text x="45" y="180.7">S<tspan class="t">32</tspan></text></g>
<g id="p11-v3-Sc3" class="n"><circle cx="45" cy="216.6" r="10.5"/><text x="45" y="220.9">S<tspan class="t">c3</tspan></text></g>
<g id="p11-v3-S31" class="n"><circle cx="45" cy="256.8" r="10.5"/><text x="45" y="261.1">S<tspan class="t">31</tspan></text></g>
<g id="p11-v2-S23" class="n"><circle cx="308.5" cy="96" r="10.5"/><text x="308.5" y="100.3">S<tspan class="t">23</tspan></text></g>
<g id="p11-v2-Sc2" class="n"><circle cx="308.5" cy="136.2" r="10.5"/><text x="308.5" y="140.5">S<tspan class="t">c2</tspan></text></g>
<g id="p11-v2-S22" class="n"><circle cx="308.5" cy="176.4" r="10.5"/><text x="308.5" y="180.7">S<tspan class="t">22</tspan></text></g>
<g id="p11-v2-Sc3" class="n"><circle cx="308.5" cy="216.6" r="10.5"/><text x="308.5" y="220.9">S<tspan class="t">c3</tspan></text></g>
<g id="p11-v2-S21" class="n"><circle cx="308.5" cy="256.8" r="10.5"/><text x="308.5" y="261.1">S<tspan class="t">21</tspan></text></g>
<g id="p11-info"><rect class="c" x="141.7" y="134" width="70" height="41.7" rx="7"/><text class="m" x="176.7" y="153.5"><tspan class="i">p</tspan> = 11</text><text class="m" x="176.7" y="167"><tspan class="i">k</tspan>* = (S<tspan class="t">c1</tspan>)<tspan class="t">3</tspan></text></g>
</g>

<!-- Panel 12 -->
<g id="panel12" transform="translate(776,969)">
<g class="c"><rect x="66.7" y="4.7" width="220.6" height="59.3" rx="10"/><rect x="6.7" y="64.7" width="57.3" height="220.8" rx="10"/><rect x="287.3" y="64.7" width="59.4" height="220.8" rx="10"/></g>
<text class="l" x="170.7" y="83.5" text-anchor="middle">VGA 1</text><text class="l" x="72.7" y="270">VGA 3</text><text class="l" x="280" y="270" text-anchor="end">VGA 2</text>
<g id="p12-edges" class="e">
<path class="a" d="M125.3,43.5H106.5"/><path class="a" d="M166,43.5H147.3"/><path class="a" d="M206.7,43.5H188"/><path class="a" d="M247.5,43.5H228.7"/><path class="a" d="M258.5,32.5V15.3H95.5V32.5"/>
<path class="a" d="M45,125.2V107"/><path class="a" d="M45,147.2V165.4"/><path class="a" d="M45,187.4V205.6"/><path class="a" d="M45,227.6V245.8"/><path class="a" d="M34,256.8H17.3V96H34"/>
<path d="M308.5,107V125.2"/><path class="a" d="M308.5,147.2V165.4"/><path class="a" d="M308.5,187.4V205.6"/><path class="a" d="M308.5,227.6V245.8"/><path class="a" d="M319.5,256.8H335V96H319.5"/>
<path class="a" d="M56,136.2L136.3,54.5"/><path class="a" d="M217.7,54.5L297.5,136.2"/><path class="a" d="M56,216.6H297.5"/>
</g>
<g id="p12-v1-S11" class="n"><circle cx="95.5" cy="43.5" r="10.5"/><text x="95.5" y="47.8">S<tspan class="t">11</tspan></text></g>
<g id="p12-v1-Sc1" class="n"><circle cx="136.3" cy="43.5" r="10.5"/><text x="136.3" y="47.8">S<tspan class="t">c1</tspan></text></g>
<g id="p12-v1-S12" class="n"><circle cx="177" cy="43.5" r="10.5"/><text x="177" y="47.8">S<tspan class="t">12</tspan></text></g>
<g id="p12-v1-Sc2" class="n"><circle cx="217.7" cy="43.5" r="10.5"/><text x="217.7" y="47.8">S<tspan class="t">c2</tspan></text></g>
<g id="p12-v1-S13" class="n h"><circle cx="258.5" cy="43.5" r="10.5"/><text x="258.5" y="47.8">S<tspan class="t">13</tspan></text></g>
<g id="p12-v3-S33" class="n"><circle cx="45" cy="96" r="10.5"/><text x="45" y="100.3">S<tspan class="t">33</tspan></text></g>
<g id="p12-v3-Sc1" class="n"><circle cx="45" cy="136.2" r="10.5"/><text x="45" y="140.5">S<tspan class="t">c1</tspan></text></g>
<g id="p12-v3-S32" class="n"><circle cx="45" cy="176.4" r="10.5"/><text x="45" y="180.7">S<tspan class="t">32</tspan></text></g>
<g id="p12-v3-Sc3" class="n"><circle cx="45" cy="216.6" r="10.5"/><text x="45" y="220.9">S<tspan class="t">c3</tspan></text></g>
<g id="p12-v3-S31" class="n"><circle cx="45" cy="256.8" r="10.5"/><text x="45" y="261.1">S<tspan class="t">31</tspan></text></g>
<g id="p12-v2-S23" class="n"><circle cx="308.5" cy="96" r="10.5"/><text x="308.5" y="100.3">S<tspan class="t">23</tspan></text></g>
<g id="p12-v2-Sc2" class="n"><circle cx="308.5" cy="136.2" r="10.5"/><text x="308.5" y="140.5">S<tspan class="t">c2</tspan></text></g>
<g id="p12-v2-S22" class="n"><circle cx="308.5" cy="176.4" r="10.5"/><text x="308.5" y="180.7">S<tspan class="t">22</tspan></text></g>
<g id="p12-v2-Sc3" class="n"><circle cx="308.5" cy="216.6" r="10.5"/><text x="308.5" y="220.9">S<tspan class="t">c3</tspan></text></g>
<g id="p12-v2-S21" class="n"><circle cx="308.5" cy="256.8" r="10.5"/><text x="308.5" y="261.1">S<tspan class="t">21</tspan></text></g>
<g id="p12-info"><rect class="c" x="141.7" y="134" width="70" height="41.7" rx="7"/><text class="m" x="176.7" y="153.5"><tspan class="i">p</tspan> = 12</text><text class="m" x="176.7" y="167"><tspan class="i">k</tspan>* = S<tspan class="t">13</tspan></text></g>
</g>

<!-- Panel 13 -->
<g id="panel13" transform="translate(0,1292)">
<g class="c"><rect x="66.7" y="4.7" width="220.6" height="59.3" rx="10"/><rect x="6.7" y="64.7" width="57.3" height="220.8" rx="10"/><rect x="287.3" y="64.7" width="59.4" height="220.8" rx="10"/></g>
<text class="l" x="170.7" y="83.5" text-anchor="middle">VGA 1</text><text class="l" x="72.7" y="270">VGA 3</text><text class="l" x="280" y="270" text-anchor="end">VGA 2</text>
<g id="p13-edges" class="e">
<path class="a" d="M125.3,43.5H106.5"/><path class="a" d="M166,43.5H147.3"/><path class="a" d="M206.7,43.5H188"/><path class="a" d="M247.5,43.5H228.7"/><path class="a" d="M258.5,32.5V15.3H95.5V32.5"/>
<path class="a" d="M45,125.2V107"/><path class="a" d="M45,147.2V165.4"/><path class="a" d="M45,187.4V205.6"/><path class="a" d="M45,227.6V245.8"/><path class="a" d="M34,256.8H17.3V96H34"/>
<path class="a" d="M308.5,125.2V107"/><path class="a" d="M308.5,147.2V165.4"/><path class="a" d="M308.5,187.4V205.6"/><path class="a" d="M308.5,227.6V245.8"/><path class="a" d="M319.5,256.8H335V96H319.5"/>
<path class="a" d="M56,136.2L136.3,54.5"/><path class="a" d="M297.5,136.2L217.7,54.5"/><path class="a" d="M56,216.6H297.5"/>
</g>
<g id="p13-v1-S11" class="n"><circle cx="95.5" cy="43.5" r="10.5"/><text x="95.5" y="47.8">S<tspan class="t">11</tspan></text></g>
<g id="p13-v1-Sc1" class="n"><circle cx="136.3" cy="43.5" r="10.5"/><text x="136.3" y="47.8">S<tspan class="t">c1</tspan></text></g>
<g id="p13-v1-S12" class="n"><circle cx="177" cy="43.5" r="10.5"/><text x="177" y="47.8">S<tspan class="t">12</tspan></text></g>
<g id="p13-v1-Sc2" class="n"><circle cx="217.7" cy="43.5" r="10.5"/><text x="217.7" y="47.8">S<tspan class="t">c2</tspan></text></g>
<g id="p13-v1-S13" class="n"><circle cx="258.5" cy="43.5" r="10.5"/><text x="258.5" y="47.8">S<tspan class="t">13</tspan></text></g>
<g id="p13-v3-S33" class="n"><circle cx="45" cy="96" r="10.5"/><text x="45" y="100.3">S<tspan class="t">33</tspan></text></g>
<g id="p13-v3-Sc1" class="n"><circle cx="45" cy="136.2" r="10.5"/><text x="45" y="140.5">S<tspan class="t">c1</tspan></text></g>
<g id="p13-v3-S32" class="n"><circle cx="45" cy="176.4" r="10.5"/><text x="45" y="180.7">S<tspan class="t">32</tspan></text></g>
<g id="p13-v3-Sc3" class="n"><circle cx="45" cy="216.6" r="10.5"/><text x="45" y="220.9">S<tspan class="t">c3</tspan></text></g>
<g id="p13-v3-S31" class="n"><circle cx="45" cy="256.8" r="10.5"/><text x="45" y="261.1">S<tspan class="t">31</tspan></text></g>
<g id="p13-v2-S23" class="n"><circle cx="308.5" cy="96" r="10.5"/><text x="308.5" y="100.3">S<tspan class="t">23</tspan></text></g>
<g id="p13-v2-Sc2" class="n h"><circle cx="308.5" cy="136.2" r="10.5"/><text x="308.5" y="140.5">S<tspan class="t">c2</tspan></text></g>
<g id="p13-v2-S22" class="n"><circle cx="308.5" cy="176.4" r="10.5"/><text x="308.5" y="180.7">S<tspan class="t">22</tspan></text></g>
<g id="p13-v2-Sc3" class="n"><circle cx="308.5" cy="216.6" r="10.5"/><text x="308.5" y="220.9">S<tspan class="t">c3</tspan></text></g>
<g id="p13-v2-S21" class="n"><circle cx="308.5" cy="256.8" r="10.5"/><text x="308.5" y="261.1">S<tspan class="t">21</tspan></text></g>
<g id="p13-info"><rect class="c" x="141.7" y="134" width="70" height="41.7" rx="7"/><text class="m" x="176.7" y="153.5"><tspan class="i">p</tspan> = 13</text><text class="m" x="176.7" y="167"><tspan class="i">k</tspan>* = (S<tspan class="t">c2</tspan>)<tspan class="t">2</tspan></text></g>
</g>

<!-- Panel 14 -->
<g id="panel14" transform="translate(388,1292)">
<g class="c"><rect x="66.7" y="4.7" width="220.6" height="59.3" rx="10"/><rect x="6.7" y="64.7" width="57.3" height="220.8" rx="10"/><rect x="287.3" y="64.7" width="59.4" height="220.8" rx="10"/></g>
<text class="l" x="170.7" y="83.5" text-anchor="middle">VGA 1</text><text class="l" x="72.7" y="270">VGA 3</text><text class="l" x="280" y="270" text-anchor="end">VGA 2</text>
<g id="p14-edges" class="e">
<path class="a" d="M125.3,43.5H106.5"/><path class="a" d="M166,43.5H147.3"/><path class="a" d="M206.7,43.5H188"/><path class="a" d="M247.5,43.5H228.7"/><path class="a" d="M258.5,32.5V15.3H95.5V32.5"/>
<path class="a" d="M45,125.2V107"/><path class="a" d="M45,147.2V165.4"/><path class="a" d="M45,187.4V205.6"/><path class="a" d="M45,227.6V245.8"/><path class="a" d="M34,256.8H17.3V96H34"/>
<path class="a" d="M308.5,107V125.2"/><path class="a" d="M308.5,147.2V165.4"/><path class="a" d="M308.5,187.4V205.6"/><path class="a" d="M308.5,227.6V245.8"/><path class="a" d="M319.5,96H335V256.8H319.5"/>
<path class="a" d="M56,136.2L136.3,54.5"/><path class="a" d="M297.5,136.2L217.7,54.5"/><path class="a" d="M56,216.6H297.5"/>
</g>
<g id="p14-v1-S11" class="n"><circle cx="95.5" cy="43.5" r="10.5"/><text x="95.5" y="47.8">S<tspan class="t">11</tspan></text></g>
<g id="p14-v1-Sc1" class="n"><circle cx="136.3" cy="43.5" r="10.5"/><text x="136.3" y="47.8">S<tspan class="t">c1</tspan></text></g>
<g id="p14-v1-S12" class="n"><circle cx="177" cy="43.5" r="10.5"/><text x="177" y="47.8">S<tspan class="t">12</tspan></text></g>
<g id="p14-v1-Sc2" class="n"><circle cx="217.7" cy="43.5" r="10.5"/><text x="217.7" y="47.8">S<tspan class="t">c2</tspan></text></g>
<g id="p14-v1-S13" class="n"><circle cx="258.5" cy="43.5" r="10.5"/><text x="258.5" y="47.8">S<tspan class="t">13</tspan></text></g>
<g id="p14-v3-S33" class="n"><circle cx="45" cy="96" r="10.5"/><text x="45" y="100.3">S<tspan class="t">33</tspan></text></g>
<g id="p14-v3-Sc1" class="n"><circle cx="45" cy="136.2" r="10.5"/><text x="45" y="140.5">S<tspan class="t">c1</tspan></text></g>
<g id="p14-v3-S32" class="n"><circle cx="45" cy="176.4" r="10.5"/><text x="45" y="180.7">S<tspan class="t">32</tspan></text></g>
<g id="p14-v3-Sc3" class="n"><circle cx="45" cy="216.6" r="10.5"/><text x="45" y="220.9">S<tspan class="t">c3</tspan></text></g>
<g id="p14-v3-S31" class="n"><circle cx="45" cy="256.8" r="10.5"/><text x="45" y="261.1">S<tspan class="t">31</tspan></text></g>
<g id="p14-v2-S23" class="n h"><circle cx="308.5" cy="96" r="10.5"/><text x="308.5" y="100.3">S<tspan class="t">23</tspan></text></g>
<g id="p14-v2-Sc2" class="n"><circle cx="308.5" cy="136.2" r="10.5"/><text x="308.5" y="140.5">S<tspan class="t">c2</tspan></text></g>
<g id="p14-v2-S22" class="n"><circle cx="308.5" cy="176.4" r="10.5"/><text x="308.5" y="180.7">S<tspan class="t">22</tspan></text></g>
<g id="p14-v2-Sc3" class="n"><circle cx="308.5" cy="216.6" r="10.5"/><text x="308.5" y="220.9">S<tspan class="t">c3</tspan></text></g>
<g id="p14-v2-S21" class="n"><circle cx="308.5" cy="256.8" r="10.5"/><text x="308.5" y="261.1">S<tspan class="t">21</tspan></text></g>
<g id="p14-info"><rect class="c" x="141.7" y="134" width="70" height="41.7" rx="7"/><text class="m" x="176.7" y="153.5"><tspan class="i">p</tspan> = 14</text><text class="m" x="176.7" y="167"><tspan class="i">k</tspan>* = S<tspan class="t">23</tspan></text></g>
</g>

<!-- Panel 15 -->
<g id="panel15" transform="translate(776,1292)">
<g class="c"><rect x="66.7" y="4.7" width="220.6" height="59.3" rx="10"/><rect x="6.7" y="64.7" width="57.3" height="220.8" rx="10"/><rect x="287.3" y="64.7" width="59.4" height="220.8" rx="10"/></g>
<text class="l" x="170.7" y="83.5" text-anchor="middle">VGA 1</text><text class="l" x="72.7" y="270">VGA 3</text><text class="l" x="280" y="270" text-anchor="end">VGA 2</text>
<g id="p15-edges" class="e">
<path class="a" d="M125.3,43.5H106.5"/><path class="a" d="M166,43.5H147.3"/><path class="a" d="M206.7,43.5H188"/><path class="a" d="M247.5,43.5H228.7"/><path class="a" d="M258.5,32.5V15.3H95.5V32.5"/>
<path class="a" d="M45,107V125.2"/><path class="a" d="M45,147.2V165.4"/><path class="a" d="M45,187.4V205.6"/><path class="a" d="M45,227.6V245.8"/><path class="a" d="M34,96H17.3V256.8H34"/>
<path class="a" d="M308.5,107V125.2"/><path class="a" d="M308.5,147.2V165.4"/><path class="a" d="M308.5,187.4V205.6"/><path class="a" d="M308.5,227.6V245.8"/><path class="a" d="M319.5,96H335V256.8H319.5"/>
<path class="a" d="M56,136.2L136.3,54.5"/><path class="a" d="M297.5,136.2L217.7,54.5"/><path class="a" d="M56,216.6H297.5"/>
</g>
<g id="p15-v1-S11" class="n"><circle cx="95.5" cy="43.5" r="10.5"/><text x="95.5" y="47.8">S<tspan class="t">11</tspan></text></g>
<g id="p15-v1-Sc1" class="n"><circle cx="136.3" cy="43.5" r="10.5"/><text x="136.3" y="47.8">S<tspan class="t">c1</tspan></text></g>
<g id="p15-v1-S12" class="n"><circle cx="177" cy="43.5" r="10.5"/><text x="177" y="47.8">S<tspan class="t">12</tspan></text></g>
<g id="p15-v1-Sc2" class="n"><circle cx="217.7" cy="43.5" r="10.5"/><text x="217.7" y="47.8">S<tspan class="t">c2</tspan></text></g>
<g id="p15-v1-S13" class="n"><circle cx="258.5" cy="43.5" r="10.5"/><text x="258.5" y="47.8">S<tspan class="t">13</tspan></text></g>
<g id="p15-v3-S33" class="n h"><circle cx="45" cy="96" r="10.5"/><text x="45" y="100.3">S<tspan class="t">33</tspan></text></g>
<g id="p15-v3-Sc1" class="n"><circle cx="45" cy="136.2" r="10.5"/><text x="45" y="140.5">S<tspan class="t">c1</tspan></text></g>
<g id="p15-v3-S32" class="n"><circle cx="45" cy="176.4" r="10.5"/><text x="45" y="180.7">S<tspan class="t">32</tspan></text></g>
<g id="p15-v3-Sc3" class="n"><circle cx="45" cy="216.6" r="10.5"/><text x="45" y="220.9">S<tspan class="t">c3</tspan></text></g>
<g id="p15-v3-S31" class="n"><circle cx="45" cy="256.8" r="10.5"/><text x="45" y="261.1">S<tspan class="t">31</tspan></text></g>
<g id="p15-v2-S23" class="n"><circle cx="308.5" cy="96" r="10.5"/><text x="308.5" y="100.3">S<tspan class="t">23</tspan></text></g>
<g id="p15-v2-Sc2" class="n"><circle cx="308.5" cy="136.2" r="10.5"/><text x="308.5" y="140.5">S<tspan class="t">c2</tspan></text></g>
<g id="p15-v2-S22" class="n"><circle cx="308.5" cy="176.4" r="10.5"/><text x="308.5" y="180.7">S<tspan class="t">22</tspan></text></g>
<g id="p15-v2-Sc3" class="n"><circle cx="308.5" cy="216.6" r="10.5"/><text x="308.5" y="220.9">S<tspan class="t">c3</tspan></text></g>
<g id="p15-v2-S21" class="n"><circle cx="308.5" cy="256.8" r="10.5"/><text x="308.5" y="261.1">S<tspan class="t">21</tspan></text></g>
<g id="p15-info"><rect class="c" x="141.7" y="134" width="70" height="41.7" rx="7"/><text class="m" x="176.7" y="153.5"><tspan class="i">p</tspan> = 15</text><text class="m" x="176.7" y="167"><tspan class="i">k</tspan>* = S<tspan class="t">33</tspan></text></g>
</g>
</svg>
